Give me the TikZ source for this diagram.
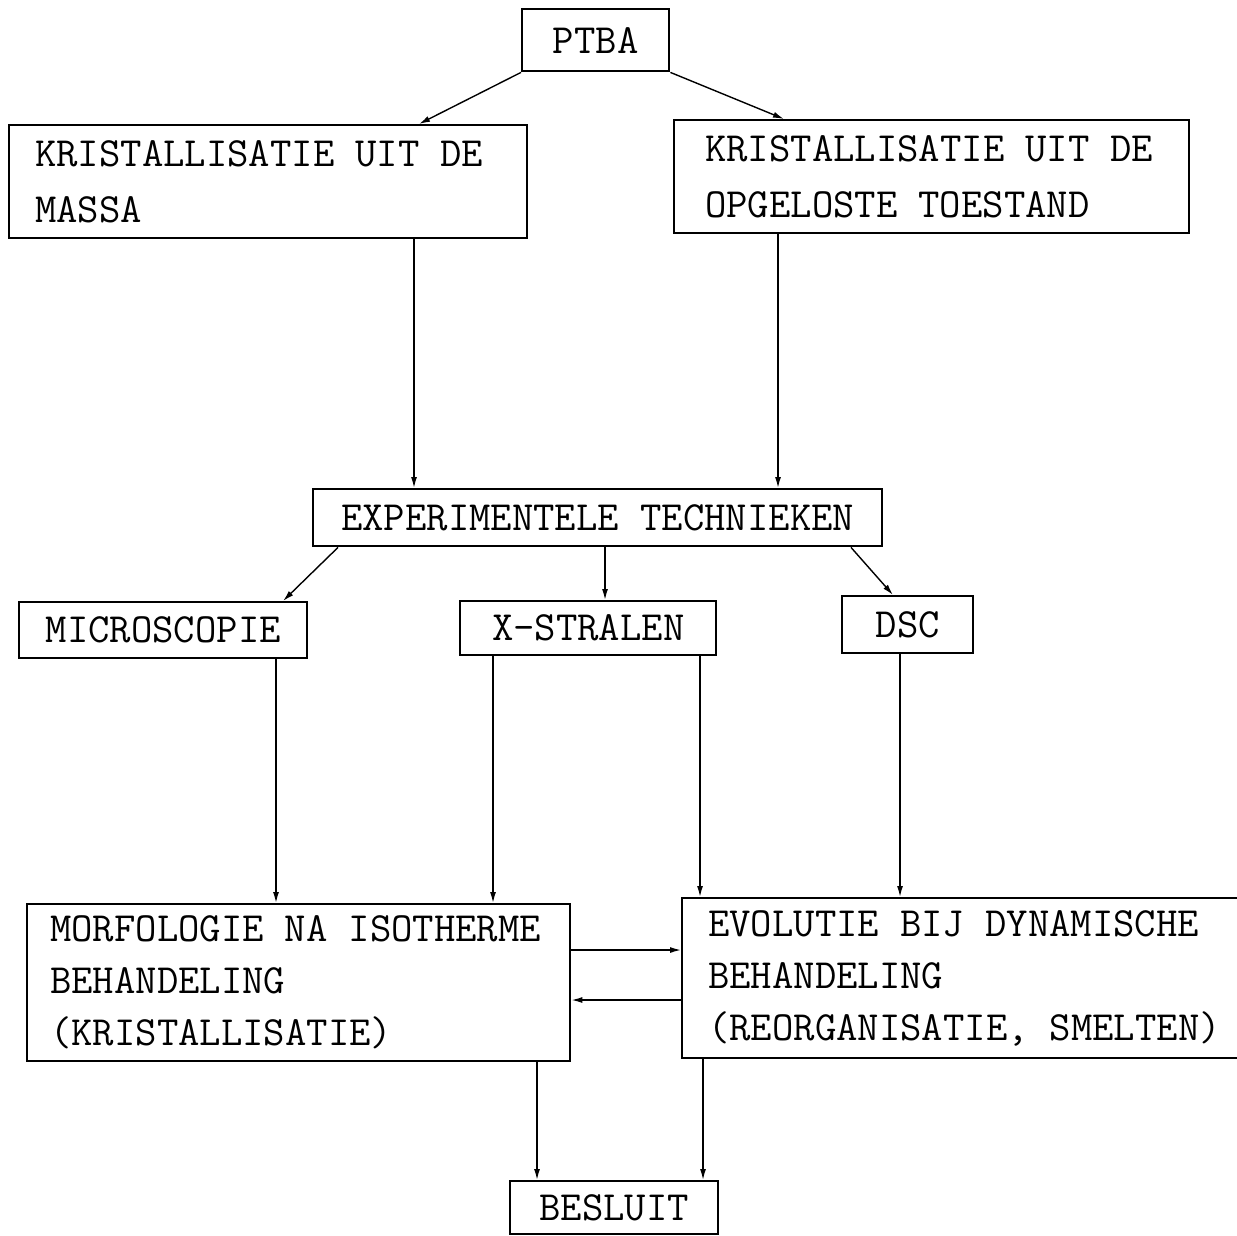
\documentclass[tikz,border=0pt]{standalone}
\usepackage{fontspec}
\setmonofont{Latin Modern Mono}
\usetikzlibrary{arrows.meta}
\newcommand{\tfont}[1]{\ttfamily\fontsize{41.5}{#1}\selectfont}
\newcommand{\wsp}{\hspace*{21pt}}
\begin{document}
\begin{tikzpicture}[x=1pt,y=-1pt,
  box/.style={draw, line width=2.4pt, inner sep=0pt, anchor=north west,
    font=\tfont{53}},
  lbox/.style={box, align=left},
  arr/.style={-{Latex[length=11pt,width=6pt]}, line width=1.4pt}]
\useasboundingbox (0,0) rectangle (1237,1235);
\fill[white] (0,0) rectangle (1237,1235);
\clip (0,0) rectangle (1237,1235);

\node[box, minimum width=147pt, minimum height=62pt] (ptba) at (521,8) {PTBA};
\node[lbox, minimum width=518pt, minimum height=113pt, inner xsep=26pt, text width=466pt,
  font=\tfont{56}] (box1) at (8,124)
  {\mbox{KRISTALLISATIE\wsp UIT\wsp DE}\\\mbox{MASSA}};
\node[lbox, minimum width=515pt, minimum height=113pt, inner xsep=31pt, text width=453pt,
  font=\tfont{56}] (box2) at (673,119)
  {\mbox{KRISTALLISATIE\wsp UIT\wsp DE}\\\mbox{OPGELOSTE\wsp TOESTAND}};
\node[box, minimum width=569pt, minimum height=57pt] (exp) at (312,488) {EXPERIMENTELE TECHNIEKEN};
\node[box, minimum width=288pt, minimum height=56pt] (micro) at (18,601) {MICROSCOPIE};
\node[box, minimum width=256pt, minimum height=54pt] (xstr) at (459,600) {X-STRALEN};
\node[box, minimum width=131pt, minimum height=57pt] (dsc) at (841,595) {DSC};
\node[lbox, minimum width=543pt, minimum height=157pt, inner xsep=23pt, text width=497pt,
  font=\tfont{52}] (morf) at (26,903)
  {\mbox{MORFOLOGIE\wsp NA\wsp ISOTHERME}\\\mbox{BEHANDELING}\\\mbox{(KRISTALLISATIE)}};
\node[lbox, minimum width=600pt, minimum height=160pt, inner xsep=26pt, text width=548pt,
  font=\tfont{52}] (evol) at (681,897)
  {\mbox{EVOLUTIE\wsp BIJ\wsp DYNAMISCHE}\\\mbox{BEHANDELING}\\\mbox{(REORGANISATIE,\wsp SMELTEN)}};
\node[box, minimum width=208pt, minimum height=53pt] (besluit) at (509,1180) {BESLUIT};

\draw[arr] (ptba.south west) -- ([xshift=411pt]box1.north west);
\draw[arr] (ptba.south east) -- ([xshift=111pt]box2.north west);
\draw[arr] ([xshift=406pt]box1.south west) -- ([xshift=102pt]exp.north west);
\draw[arr] ([xshift=105pt]box2.south west) -- ([xshift=466pt]exp.north west);
\draw[arr] ([xshift=26pt]exp.south west) -- ([xshift=265pt]micro.north west);
\draw[arr] ([xshift=293pt]exp.south west) -- ([xshift=146pt]xstr.north west);
\draw[arr] ([xshift=539pt]exp.south west) -- ([xshift=52pt]dsc.north west);
\draw[arr] ([xshift=258pt]micro.south west) -- ([xshift=250pt]morf.north west);
\draw[arr] ([xshift=34pt]xstr.south west) -- ([xshift=467pt]morf.north west);
\draw[arr] ([xshift=241pt]xstr.south west) -- ([xshift=19pt]evol.north west);
\draw[arr] ([xshift=59pt]dsc.south west) -- ([xshift=219pt]evol.north west);
\draw[arr] ([yshift=-47pt]morf.north east) -- ([yshift=-53pt]evol.north west);
\draw[arr] ([yshift=-103pt]evol.north west) -- ([yshift=-97pt]morf.north east);
\draw[arr] ([xshift=511pt]morf.south west) -- ([xshift=28pt]besluit.north west);
\draw[arr] ([xshift=22pt]evol.south west) -- ([xshift=194pt]besluit.north west);
\end{tikzpicture}
\end{document}
